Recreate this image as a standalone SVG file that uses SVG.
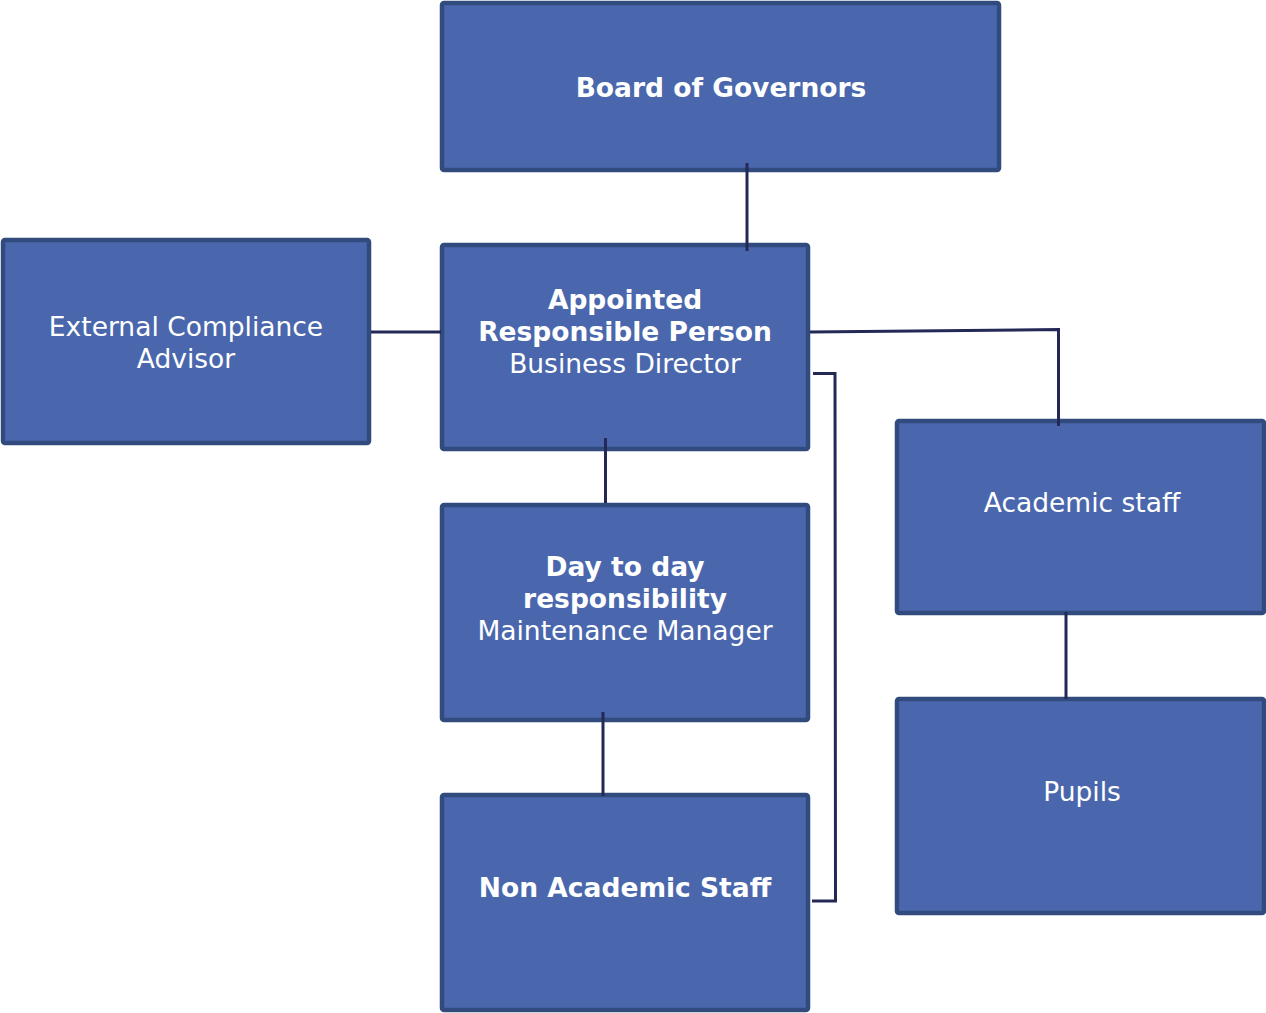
<svg xmlns="http://www.w3.org/2000/svg" width="1266" height="1013" viewBox="0 0 1266 1013">
<style>
.box{fill:#4A67AD;stroke:#324B7E;stroke-width:4.5}
.t{font-family:"DejaVu Sans",Verdana,sans-serif;font-size:26.5px;fill:#FFFFFF;text-anchor:middle}
.b{font-weight:bold}
.c{fill:none;stroke:#232856;stroke-width:3}
</style>
<rect width="1266" height="1013" fill="#FFFFFF"/>
<g id="board">
<rect class="box" x="442" y="3" width="557" height="167" rx="2"/>
<text class="t b" x="721" y="97">Board of Governors</text>
</g>
<g id="external">
<rect class="box" x="3" y="240" width="366" height="203" rx="2"/>
<text class="t" x="186" y="336">External Compliance</text>
<text class="t" x="186" y="368">Advisor</text>
</g>
<g id="arp">
<rect class="box" x="442" y="245" width="366" height="204" rx="2"/>
<text class="t b" x="625" y="309">Appointed</text>
<text class="t b" x="625" y="341">Responsible Person</text>
<text class="t" x="625" y="373">Business Director</text>
</g>
<g id="maintenance">
<rect class="box" x="442" y="505" width="366" height="215" rx="2"/>
<text class="t b" x="625" y="576">Day to day</text>
<text class="t b" x="625" y="608">responsibility</text>
<text class="t" x="625" y="640">Maintenance Manager</text>
</g>
<g id="nonacademic">
<rect class="box" x="442" y="795" width="366" height="215" rx="2"/>
<text class="t b" x="625" y="897">Non Academic Staff</text>
</g>
<g id="academic">
<rect class="box" x="897" y="421" width="367" height="192" rx="2"/>
<text class="t" x="1082" y="512">Academic staff</text>
</g>
<g id="pupils">
<rect class="box" x="897" y="699" width="367" height="214" rx="2"/>
<text class="t" x="1082" y="801">Pupils</text>
</g>
<g id="connectors">
<line class="c" x1="747" y1="163" x2="747" y2="251"/>
<line class="c" x1="371" y1="332" x2="441" y2="332"/>
<polyline class="c" points="810,332 1058.5,329.5 1058.5,426"/>
<line class="c" x1="605.5" y1="438" x2="605.5" y2="503"/>
<line class="c" x1="603" y1="712" x2="603" y2="796"/>
<polyline class="c" points="813,373.5 835,373.5 835.5,901 812,901"/>
<line class="c" x1="1066" y1="612" x2="1066" y2="699"/>
</g>
</svg>
